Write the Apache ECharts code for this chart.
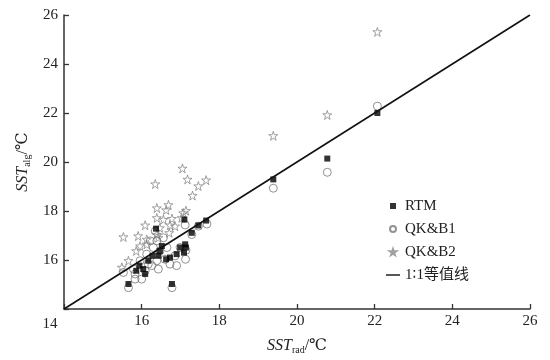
<!DOCTYPE html>
<html>
<head>
<meta charset="utf-8">
<script src="https://cdn.jsdelivr.net/npm/echarts@6/dist/echarts.min.js"></script>
<style>html,body{margin:0;padding:0;background:#fff;}#c{width:550px;height:360px;}</style>
</head>
<body>
<div id="c"></div>
<script>
const xTicks = [14, 16, 18, 20, 22, 24, 26];
const yTicks = [14, 16, 18, 20, 22, 24, 26];
const seriesNames = ['RTM', 'QK&B1', 'QK&B2', '1∶1等值线'];
const rtm = [
  [17.66,17.61],[17.46,17.41],[17.29,17.11],[17.10,17.65],[17.12,16.64],[17.14,16.51],[17.09,16.30],
  [16.37,17.28],[16.47,16.37],[16.43,16.17],[16.63,16.03],[16.73,16.10],[16.28,16.17],[16.17,15.97],
  [15.94,15.77],[15.86,15.56],[16.04,15.63],[16.09,15.43],[15.66,15.02],[16.78,15.02],[16.52,16.57],
  [16.99,16.51],[16.90,16.24],[19.39,19.29],[20.78,20.14],[22.07,22.00]
];
const qkb1 = [
  [17.68,17.47],[17.46,17.38],[17.29,17.04],[17.12,17.43],[17.13,16.03],[17.14,16.40],[16.73,15.83],
  [16.60,16.03],[16.86,16.17],[16.39,15.97],[16.43,15.63],[16.26,15.77],[16.09,15.56],[15.83,15.43],
  [16.00,15.22],[15.83,15.22],[15.66,14.87],[16.78,14.87],[16.17,15.83],[16.47,16.37],[16.65,16.51],
  [16.30,16.51],[16.99,16.51],[16.39,16.78],[16.22,16.78],[16.56,16.91],[16.35,17.18],[16.13,16.24],
  [15.96,15.97],[15.79,15.63],[15.53,15.49],[16.90,15.77],[19.39,18.93],[20.78,19.58],[22.07,22.28]
];
const qkb2 = [
  [17.05,19.74],[17.18,19.29],[17.66,19.26],[17.46,19.02],[16.35,19.10],[17.31,18.63],[16.39,18.12],
  [16.69,18.25],[16.63,18.04],[17.14,18.01],[17.07,17.92],[16.56,17.65],[16.78,17.69],[16.73,17.42],
  [16.86,17.38],[16.09,17.42],[15.53,16.94],[15.91,16.98],[16.13,16.84],[16.39,17.04],[16.43,16.91],
  [16.71,17.11],[15.96,16.57],[16.13,16.64],[15.86,16.37],[15.66,15.97],[15.49,15.70],[16.39,17.72],
  [16.47,17.31],[17.03,17.72],[19.39,21.07],[20.78,21.92],[22.07,25.31]
];
const oneToOne = [[14,14],[26,26]];

const star = 'path://M50,2 L61,36 L97,36 L68,57 L79,92 L50,71 L21,92 L32,57 L3,36 L39,36 Z';
const square = 'path://M0,0 L10,0 L10,10 L0,10 Z';
const dash = 'path://M0,0 L20,0 L20,2 L0,2 Z';
const serif = '"Liberation Serif","DejaVu Serif",serif';

const chart = echarts.init(document.getElementById('c'));
chart.setOption({
  animation: false,
  backgroundColor: '#fff',
  grid: {left: 64, right: 20, top: 15, bottom: 48},
  legend: {
    orient: 'vertical', left: 381, top: 192, itemGap: 5, itemWidth: 14, itemHeight: 6,
    symbolKeepAspect: true,
    textStyle: {fontFamily: '"Liberation Serif","DejaVu Serif","DejaVu Sans","Noto Sans CJK SC",serif', fontSize: 15, color: '#222', lineHeight: 18},
    data: [
      {name: seriesNames[0], icon: square},
      {name: seriesNames[1], icon: 'circle'},
      {name: seriesNames[2], icon: star},
      {name: seriesNames[3], icon: dash}
    ]
  },
  xAxis: {
    type: 'value', min: xTicks[0], max: xTicks[xTicks.length - 1], interval: 2,
    name: '{i|SST}{s|rad}{n|/℃}', nameLocation: 'middle', nameGap: 27,
    nameTextStyle: {
      rich: {
        i: {fontFamily: serif, fontStyle: 'italic', fontSize: 16, color: '#222'},
        s: {fontFamily: serif, fontSize: 10, color: '#222', padding: [9, 0, 0, 0]},
        n: {fontFamily: serif, fontSize: 16, color: '#222'}
      }
    },
    axisLine: {show: true, lineStyle: {color: '#333', width: 1.5}},
    axisTick: {show: true, inside: true, length: 5, lineStyle: {color: '#333', width: 1.3}},
    axisLabel: {
      margin: 5, fontFamily: serif, fontSize: 15, color: '#222',
      formatter: v => v === 14 ? '{d|14}' : String(v),
      rich: {d: {fontFamily: serif, fontSize: 15, color: '#222', padding: [3, 28, 0, 0]}}
    },
    splitLine: {show: false}
  },
  yAxis: {
    type: 'value', min: yTicks[0], max: yTicks[yTicks.length - 1], interval: 2,
    name: '{i|SST}{s|alg}{n|/℃}', nameLocation: 'middle', nameGap: 31, nameRotate: 90,
    nameTextStyle: {
      rich: {
        i: {fontFamily: serif, fontStyle: 'italic', fontSize: 16, color: '#222'},
        s: {fontFamily: serif, fontSize: 10, color: '#222', padding: [9, 0, 0, 0]},
        n: {fontFamily: serif, fontSize: 16, color: '#222'}
      }
    },
    axisLine: {show: true, lineStyle: {color: '#333', width: 1.5}},
    axisTick: {show: true, inside: true, length: 5, lineStyle: {color: '#333', width: 1.3}},
    axisLabel: {
      margin: 6, fontFamily: serif, fontSize: 15, color: '#222',
      formatter: v => v === 14 ? '' : String(v)
    },
    splitLine: {show: false}
  },
  series: [
    {
      name: seriesNames[2], type: 'scatter', data: qkb2, symbol: star, symbolSize: 9, z: 2,
      itemStyle: {color: 'rgba(255,255,255,0)', borderColor: '#8a8a8a', borderWidth: 1}
    },
    {
      name: seriesNames[1], type: 'scatter', data: qkb1, symbol: 'circle', symbolSize: 8, z: 3,
      itemStyle: {color: 'rgba(255,255,255,0)', borderColor: '#777', borderWidth: 1}
    },
    {
      name: seriesNames[0], type: 'scatter', data: rtm, symbol: 'rect', symbolSize: 6, z: 4,
      itemStyle: {color: '#000'}
    },
    {
      name: seriesNames[3], type: 'line', data: oneToOne, symbol: 'none', z: 5,
      lineStyle: {color: '#111', width: 1.6}, itemStyle: {color: '#111'}
    }
  ]
});
</script>
</body>
</html>
